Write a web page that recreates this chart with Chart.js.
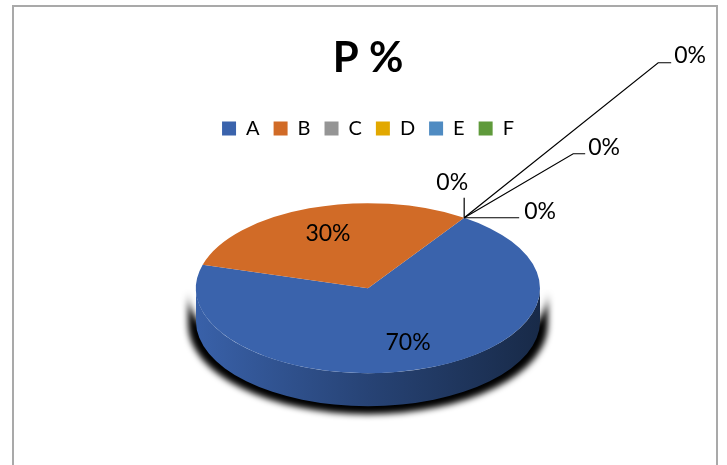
<!DOCTYPE html>
<html>
<head>
<meta charset="utf-8">
<script src="https://cdn.jsdelivr.net/npm/chart.js@4"></script>
<style>
  html, body { margin: 0; padding: 0; background: #fff; }
  #marco { position: absolute; left: 12px; top: 5px; width: 702px; height: 480px; border: 2px solid #a9a9a9; }
  #grafica { position: absolute; left: 0; top: 0; }
</style>
</head>
<body>
<div id="marco"></div>
<canvas id="grafica" width="727" height="465"></canvas>
<script>
// DATOS
const categorias = ['A', 'B', 'C', 'D', 'E', 'F'];
const valores = [70, 30, 0, 0, 0, 0];
const titulo = 'P %';

// ESTILO
const colores = ['#3A63AC', '#D16B27', '#959595', '#E2A800', '#4F8BC2', '#5F9A3B'];
const GIRO = 34;         // rotación de la tarta en grados
const RADIO = 172;
const APLASTE = 0.494;   // alto / ancho de la elipse
const FONDO = 33;        // grosor del canto

// guías de las etiquetas 0%: codo, fin, texto (respecto al punto de salida), alineación
const guias = [
  [[0, -20], null, [-12, -35], 'center'],
  [[55, 0], null, [60, -6], 'left'],
  [[109, -64], [121, -64], [124, -70], 'left'],
  [[194, -155], [207, -155], [210, -162], 'left']
];

Chart.defaults.font.family = 'Lato';

function oscurecer(hex, f) {
  const n = parseInt(hex.slice(1), 16);
  const r = Math.round(((n >> 16) & 255) * f);
  const g = Math.round(((n >> 8) & 255) * f);
  const b = Math.round((n & 255) * f);
  return `rgb(${r},${g},${b})`;
}

function tramosDelante(a) {
  // partes del arco que miran hacia el frente (seno positivo)
  const t = [];
  for (let k = -1; k <= 2; k++) {
    const lo = Math.max(a.startAngle, 2 * Math.PI * k);
    const hi = Math.min(a.endAngle, 2 * Math.PI * k + Math.PI);
    if (hi - lo > 1e-6) t.push([lo, hi]);
  }
  return t;
}

const tarta3d = {
  id: 'tarta3d',
  beforeDatasetsDraw(chart) {
    const ctx = chart.ctx;
    const arcos = chart.getDatasetMeta(0).data;
    const { x, y, outerRadius: r } = arcos[0];
    const ry = r * APLASTE;

    // sombra negra difusa bajo el canto
    ctx.save();
    ctx.filter = 'blur(3px)';
    ctx.fillStyle = '#000';
    arcos.forEach(a => {
      tramosDelante(a).forEach(([lo, hi]) => {
        ctx.beginPath();
        ctx.ellipse(x, y + 4, r + 8, ry + 2, 0, lo, hi, false);
        ctx.ellipse(x, y + FONDO + 3, r + 8, ry + 5, 0, hi, lo, true);
        ctx.closePath();
        ctx.fill();
      });
    });
    ctx.restore();

    // canto delantero
    ctx.save();
    arcos.forEach((a, i) => {
      const grad = ctx.createLinearGradient(x - r, 0, x + r, 0);
      grad.addColorStop(0, oscurecer(colores[i], 0.98));
      grad.addColorStop(0.5, oscurecer(colores[i], 0.68));
      grad.addColorStop(1, oscurecer(colores[i], 0.42));
      ctx.fillStyle = grad;
      tramosDelante(a).forEach(([lo, hi]) => {
        ctx.beginPath();
        ctx.ellipse(x, y, r, ry, 0, lo, hi, false);
        ctx.ellipse(x, y + FONDO, r, ry, 0, hi, lo, true);
        ctx.closePath();
        ctx.fill();
      });
    });
    ctx.restore();

    // cara de arriba aplastada
    ctx.save();
    ctx.translate(0, y);
    ctx.scale(1, APLASTE);
    ctx.translate(0, -y);
  },
  afterDatasetsDraw(chart) {
    const ctx = chart.ctx;
    ctx.restore();

    const datos = chart.data.datasets[0].data;
    const total = datos.reduce((s, v) => s + v, 0);
    const arcos = chart.getDatasetMeta(0).data;

    ctx.save();
    ctx.font = '23px Lato';
    ctx.fillStyle = '#000';
    ctx.strokeStyle = '#000';
    ctx.lineWidth = 1.2;
    ctx.textBaseline = 'middle';
    let n = 0;
    arcos.forEach((a, i) => {
      const r = a.outerRadius;
      const texto = Math.round(datos[i] / total * 100) + '%';
      if (datos[i] > 0) {
        const m = (a.startAngle + a.endAngle) / 2;
        ctx.textAlign = 'center';
        ctx.fillText(texto, a.x + Math.cos(m) * r * 0.68, a.y + Math.sin(m) * r * 0.68 * APLASTE);
        return;
      }
      const g = guias[n++];
      if (!g) return;
      const ox = a.x + Math.cos(a.startAngle) * r;
      const oy = a.y + Math.sin(a.startAngle) * r * APLASTE;
      ctx.beginPath();
      ctx.moveTo(ox, oy);
      ctx.lineTo(ox + g[0][0], oy + g[0][1]);
      if (g[1]) ctx.lineTo(ox + g[1][0], oy + g[1][1]);
      ctx.stroke();
      ctx.textAlign = g[3];
      ctx.fillText(texto, ox + g[2][0], oy + g[2][1]);
    });
    ctx.restore();
  }
};

new Chart(document.getElementById('grafica'), {
  type: 'pie',
  data: {
    labels: categorias,
    datasets: [{
      data: valores,
      backgroundColor: colores,
      borderWidth: 0,
      hoverOffset: 0,
      radius: RADIO,
      clip: false
    }]
  },
  options: {
    responsive: false,
    animation: false,
    events: [],
    rotation: GIRO,
    layout: { padding: { left: 9, right: 0, top: 0, bottom: 37 } },
    plugins: {
      title: {
        display: true,
        text: titulo,
        color: '#000',
        font: { size: 42, weight: 'bold' },
        padding: { top: 33, bottom: 21 }
      },
      legend: {
        position: 'top',
        labels: { boxWidth: 14, boxHeight: 14, padding: 14, color: '#000', font: { size: 20 } }
      },
      tooltip: { enabled: false }
    }
  },
  plugins: [tarta3d]
});
</script>
</body>
</html>
